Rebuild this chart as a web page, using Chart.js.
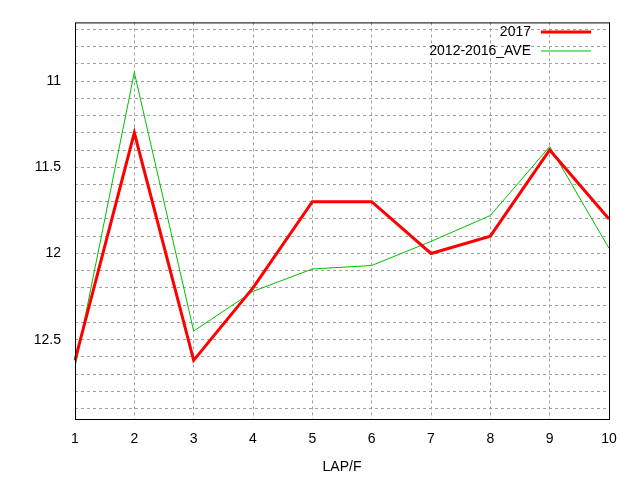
<!DOCTYPE html>
<html><head><script src="https://cdn.jsdelivr.net/npm/chart.js@4"></script>
<style>body{margin:0;background:#fff}canvas{display:block}</style></head>
<body><canvas id="c" width="640" height="480"></canvas>
<script>
const laps=['1','2','3','4','5','6','7','8','9','10'];
const s2017=[12.62,11.3,12.62,12.2,11.7,11.7,12.0,11.9,11.4,11.8];
const sAve=[12.66,10.95,12.45,12.22,12.09,12.07,11.93,11.78,11.38,11.97];
const yTicks=[10.7,10.8,10.9,11,11.1,11.2,11.3,11.4,11.5,11.6,11.7,11.8,11.9,12,12.1,12.2,12.3,12.4,12.5,12.6,12.7,12.8,12.9];
const yLabels=[11,11.5,12,12.5];
const font={family:'Liberation Sans, Arial',size:14};
const legendPlugin={id:'lg',afterDatasetsDraw(ch){
  const c=ch.ctx;c.save();c.font='14px Liberation Sans, Arial';c.textAlign='right';c.textBaseline='middle';c.fillStyle='#000';
  ch.data.datasets.forEach((d,i)=>{const y=32+i*19;c.fillText(d.label,531,y);
    c.strokeStyle=d.borderColor;c.lineWidth=d.borderWidth;c.beginPath();c.moveTo(541,y);c.lineTo(591,y);c.stroke();});
  c.restore();}};
const borderPlugin={id:'bd',afterDraw(ch){const a=ch.chartArea,c=ch.ctx;c.save();c.strokeStyle='#000';c.lineWidth=1;
  c.strokeRect(a.left+0.5,a.top+0.5,a.right-a.left,a.bottom-a.top);c.restore();}};
new Chart(document.getElementById('c'),{type:'line',
 data:{labels:laps,datasets:[
  {label:'2017',data:s2017,borderColor:'#ff0000',borderWidth:3,pointRadius:0,tension:0},
  {label:'2012-2016_AVE',data:sAve,borderColor:'#00c000',borderWidth:1,pointRadius:0,tension:0}]},
 options:{responsive:false,animation:false,layout:{padding:{top:20,right:31,left:0,bottom:0}},
  plugins:{legend:{display:false},tooltip:{enabled:false}},
  scales:{
   x:{offset:false,grid:{color:'#a0a0a0',tickLength:0,drawTicks:false,lineWidth:1},border:{display:false,dash:[3,3]},
      ticks:{color:'#000',font,padding:12,maxRotation:0},
      title:{display:true,text:'LAP/F',color:'#000',font,padding:{top:8}},
      afterFit(s){s.height=61;}},
   y:{reverse:true,min:10.66,max:12.96,
      afterBuildTicks(s){s.ticks=yTicks.map(v=>({value:v}));},
      grid:{color:'#a0a0a0',drawTicks:false},border:{display:false,dash:[3,3]},
      ticks:{color:'#000',font,padding:14,autoSkip:false,callback:v=>yLabels.some(l=>Math.abs(l-v)<1e-6)?String(+v.toFixed(1)):''},
      afterFit(s){s.width=75;}}
  }},
 plugins:[legendPlugin,borderPlugin]});
</script></body></html>
